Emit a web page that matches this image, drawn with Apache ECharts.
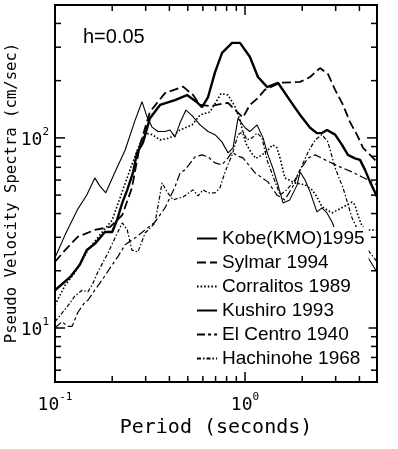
<!DOCTYPE html>
<html><head><meta charset="utf-8">
<script src="https://cdn.jsdelivr.net/npm/echarts@6/dist/echarts.min.js"></script>
<style>html,body{margin:0;padding:0;background:#fff}#c{width:398px;height:449px}</style>
</head><body><div id="c"></div>
<script>
// ---- data (period in seconds, pseudo velocity in cm/sec) ----
const seriesNames = ['Kobe(KMO)1995', 'Sylmar 1994', 'Corralitos 1989', 'Kushiro 1993', 'El Centro 1940', 'Hachinohe 1968'];

const kobePeriod = [0.1,0.12,0.135,0.147,0.162,0.183,0.2,0.212,0.226,0.24,0.258,0.27,0.29,0.316,0.357,0.428,0.495,0.559,0.594,0.639,0.695,0.757,0.855,0.941,1.06,1.17,1.31,1.49,1.72,1.95,2.2,2.39,2.54,2.7,2.98,3.24,3.48,3.79,4.03,4.28,4.55,4.95];
const kobeVelocity = [15.8,18.5,21.5,25.7,27.7,32,32,37,45.5,53.3,66.3,83.4,94.2,127,149,158,168,154,145,164,221,280,316,316,267,209,185,195,158,132,113,106,106,110,104,91.8,81.4,78,76.6,67.9,58.7,49];

const sylmarPeriod = [0.1,0.113,0.132,0.162,0.195,0.226,0.254,0.28,0.316,0.379,0.472,0.533,0.58,0.654,0.814,0.908,0.976,1.06,1.17,1.27,1.53,1.95,2.2,2.48,2.73,2.98,3.28,3.57,3.88,4.18,4.55,4.95];
const sylmarVelocity = [22.3,25.7,30.2,32.8,34,39.3,54.6,91.8,137,172,186,168,149,147,153,137,128,149,162,179,195,197,209,233,217,179,149,121,104,88.7,81.4,74.8];

const corralitosPeriod = [0.1,0.113,0.127,0.149,0.176,0.2,0.22,0.248,0.274,0.298,0.325,0.357,0.403,0.455,0.526,0.58,0.654,0.748,0.814,0.886,0.941,0.976,1.01,1.08,1.14,1.23,1.32,1.40,1.47,1.53,1.62,1.83,2.07,2.25,2.39,2.54,2.87,3.08,3.44,3.66,3.79,3.92,4.13,4.33,4.95];
const corralitosVelocity = [13.2,16.8,19.5,25.7,31.7,37,48.4,67.9,88.8,106,104,97.6,100,110,117,132,137,171,168,146,124,106,93.6,83.4,78,81.4,86.4,91.8,89,78,61.6,58,56.6,53.3,49,43.5,40.3,41.8,44.4,46,44.4,39.3,34.4,32.8,32.8];

const kushiroPeriod = [0.1,0.113,0.131,0.147,0.162,0.172,0.185,0.207,0.234,0.264,0.287,0.305,0.324,0.348,0.379,0.403,0.428,0.455,0.489,0.526,0.58,0.639,0.695,0.756,0.814,0.865,0.919,1.0,1.06,1.157,1.244,1.32,1.40,1.49,1.585,1.72,1.88,1.95,2.07,2.2,2.39,2.54,2.70,2.87,3.05,3.48,3.93,4.13,4.44,4.95];
const kushiroVelocity = [23.4,30.9,41.8,50.1,61.6,55.9,51.4,66.2,86.4,124,155,129,114,108,108,110,101,120,140,131,117,108,104,95.3,83.4,88.6,127,113,108,117,100,81.4,69.5,56.6,45.5,47.2,56.6,66.2,60.1,52,40.8,42.8,40.3,36.1,30.9,27.4,25.7,28.4,23.4,19.7];

const elCentroPeriod = [0.1,0.109,0.116,0.123,0.132,0.144,0.149,0.162,0.177,0.195,0.215,0.234,0.264,0.298,0.336,0.379,0.428,0.455,0.483,0.546,0.594,0.639,0.695,0.756,0.814,0.855,0.908,0.976,1.13,1.32,1.47,1.62,1.77,1.95,2.15,2.34,2.64,3.16,3.66,4.13,4.95];
const elCentroVelocity = [10.0,10.8,10.2,10.2,12.1,13.7,14.0,15.8,17.9,20.7,23.9,27.4,29.8,32.8,36.1,42.8,55.2,65.4,67.9,79.4,81.4,79.4,73.9,72.1,78.5,84.4,80.4,78.5,65.4,58.7,50.1,47.2,54.6,67.9,78.5,81.4,76.6,70.4,66.2,62.3,56.6];

const hachinohePeriod = [0.1,0.106,0.117,0.127,0.139,0.149,0.158,0.168,0.19,0.207,0.226,0.24,0.254,0.273,0.298,0.336,0.366,0.389,0.418,0.472,0.533,0.566,0.601,0.639,0.695,0.738,0.785,0.855,0.919,0.976,1.024,1.09,1.157,1.229,1.305,1.44,1.53,1.66,1.83,1.95,2.15,2.34,2.54,2.73,2.98,3.28,3.66,4.03,4.44,4.95];
const hachinoheVelocity = [10.8,11.6,13.1,14.7,15.8,15.5,17.1,19.7,24.8,29.8,35.7,32.8,25.7,25.1,31.6,35.7,58,52,47.2,48.9,53.3,49.5,53.3,51.4,51.4,54.6,66.2,81.4,104,108,97.6,100,106,100,76.6,58.7,50.1,53.3,60.1,67.9,84.4,97.6,104,95.3,69.5,54.6,37.9,30.9,25.7,22.3];

const xMajorTicks = [0.1, 1];
const xMinorTicks = [0.2,0.3,0.4,0.5,0.6,0.7,0.8,0.9,2,3,4];
const yMajorTicks = [10, 100];
const yMinorTicks = [6,7,8,9,20,30,40,50,60,70,80,90,200,300,400];

(function () {
  function zip(p, v) { return p.map((x, i) => [x, v[i]]); }
  const datasets = [
    zip(kobePeriod, kobeVelocity),
    zip(sylmarPeriod, sylmarVelocity),
    zip(corralitosPeriod, corralitosVelocity),
    zip(kushiroPeriod, kushiroVelocity),
    zip(elCentroPeriod, elCentroVelocity),
    zip(hachinohePeriod, hachinoheVelocity)
  ];
  const lineStyles = [
    { width: 2.4, type: 'solid' },
    { width: 1.8, type: [9, 4] },
    { width: 1.6, type: [1.6, 2] },
    { width: 1.1, type: 'solid' },
    { width: 1.2, type: [8, 3, 3, 3] },
    { width: 1.2, type: [4, 2, 1.5, 2] }
  ];

  const X_MIN = 0.1, X_MAX = 4.95, Y_MIN = 5.2, Y_MAX = 500;
  const GRID_W = 322, GRID_H = 377;
  const MONO = '"DejaVu Sans Mono", "Liberation Mono", monospace';
  const SANS = '"Liberation Sans", Arial, Helvetica, sans-serif';

  function supFmt(v) {
    const e = Math.round(Math.log10(v));
    return '{n|10}{s|' + e + '}';
  }
  const supRich = {
    n: { fontFamily: MONO, fontSize: 18, color: '#000', lineHeight: 22, verticalAlign: 'bottom' },
    s: { fontFamily: MONO, fontSize: 11, color: '#000', lineHeight: 11, verticalAlign: 'top' }
  };

  // tick marks drawn as short segments through the axes' own log scales
  const pxPerDecX = GRID_W / Math.log10(X_MAX / X_MIN);
  const pxPerDecY = GRID_H / Math.log10(Y_MAX / Y_MIN);
  const fY = len => Math.pow(10, len / pxPerDecY);
  const fX = len => Math.pow(10, len / pxPerDecX);
  const tickSeries = [];
  function tickLine(points) {
    tickSeries.push({
      type: 'line', data: points, symbol: 'none', clip: false,
      lineStyle: { color: '#000', width: 1.5 }, z: 3
    });
  }
  function xTick(v, len) {
    tickLine([[v, Y_MIN], [v, Y_MIN * fY(len)]]);
    tickLine([[v, Y_MAX], [v, Y_MAX / fY(len)]]);
  }
  function yTick(v, len) {
    tickLine([[X_MIN, v], [X_MIN * fX(len), v]]);
    tickLine([[X_MAX, v], [X_MAX / fX(len), v]]);
  }
  xMajorTicks.forEach(v => xTick(v, 10));
  xMinorTicks.forEach(v => xTick(v, 6));
  yMajorTicks.forEach(v => yTick(v, 10));
  yMinorTicks.forEach(v => yTick(v, 6));

  const chart = echarts.init(document.getElementById('c'), null, { renderer: 'canvas' });
  chart.setOption({
    animation: false,
    backgroundColor: '#fff',
    grid: {
      left: 55, top: 5, width: GRID_W, height: GRID_H,
      show: true, borderColor: '#000', borderWidth: 2
    },
    xAxis: {
      type: 'log', logBase: 10, min: X_MIN, max: X_MAX,
      axisLine: { show: false }, splitLine: { show: false },
      axisTick: { show: false },
      axisLabel: { show: true, customValues: xMajorTicks, margin: 10, formatter: supFmt, rich: supRich }
    },
    yAxis: {
      type: 'log', logBase: 10, min: Y_MIN, max: Y_MAX,
      axisLine: { show: false }, splitLine: { show: false },
      axisTick: { show: false },
      axisLabel: { show: true, customValues: yMajorTicks, margin: 6, formatter: supFmt, rich: supRich }
    },
    legend: {
      orient: 'vertical', left: 194, top: 227,
      itemWidth: 20, itemHeight: 12, itemGap: 5,
      padding: [2, 4, 2, 2],
      backgroundColor: '#fff',
      selectedMode: false,
      data: seriesNames,
      itemStyle: { opacity: 0 },
      textStyle: { fontFamily: SANS, fontSize: 19, color: '#000', lineHeight: 19 }
    },
    graphic: [
      { type: 'text', x: 216, y: 428, silent: true,
        style: { text: 'Period (seconds)', font: '20px ' + MONO, fill: '#000', align: 'center', verticalAlign: 'middle', textAlign: 'center', textVerticalAlign: 'middle' } },
      { type: 'text', x: 12, y: 193, rotation: Math.PI / 2, silent: true,
        style: { text: 'Pseudo Velocity Spectra (cm/sec)', font: '15.6px ' + MONO, fill: '#000', align: 'center', verticalAlign: 'middle', textAlign: 'center', textVerticalAlign: 'middle' } },
      { type: 'text', x: 83, y: 37, silent: true,
        style: { text: 'h=0.05', font: '20px ' + SANS, fill: '#000', align: 'left', verticalAlign: 'middle', textAlign: 'left', textVerticalAlign: 'middle' } }
    ],
    series: seriesNames.map((name, i) => ({
      name: name, type: 'line', data: datasets[i],
      symbol: 'none', showSymbol: false, smooth: false, clip: true,
      lineStyle: { color: '#000', width: lineStyles[i].width, type: lineStyles[i].type },
      itemStyle: { color: '#000' },
      emphasis: { disabled: true },
      z: 2
    })).concat(tickSeries)
  });
})();
</script></body></html>
